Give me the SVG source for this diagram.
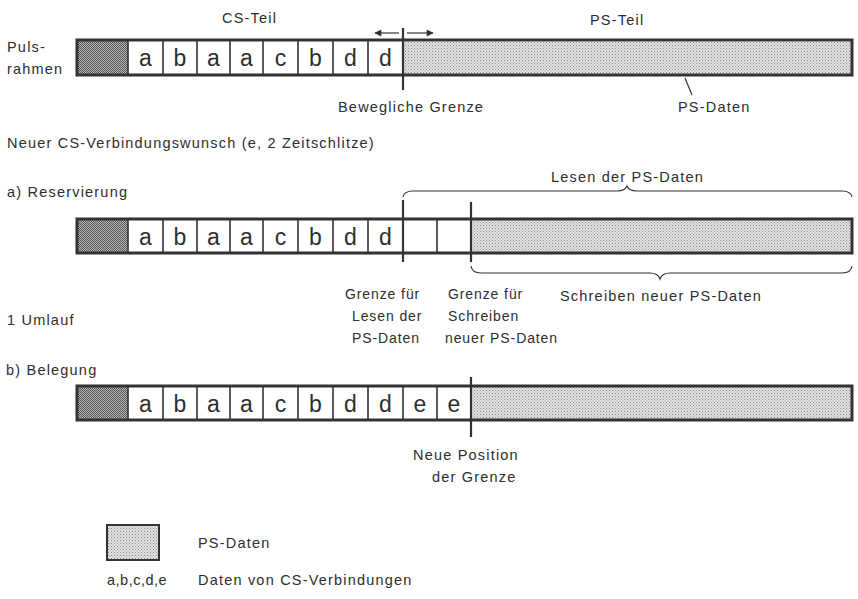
<svg xmlns="http://www.w3.org/2000/svg" width="858" height="599" viewBox="0 0 858 599">
<defs>
<pattern id="light" width="3" height="3" patternUnits="userSpaceOnUse">
<rect width="3" height="3" fill="#e2e2e2"/>
<rect x="0" y="0" width="1" height="1" fill="#8a8a8a"/>
<rect x="1.5" y="1.5" width="1" height="1" fill="#9a9a9a"/>
</pattern>
<pattern id="dark" width="2" height="2" patternUnits="userSpaceOnUse">
<rect width="2" height="2" fill="#b8b8b8"/>
<rect x="0" y="0" width="1" height="1" fill="#555"/>
<rect x="1" y="1" width="1" height="1" fill="#555"/>
</pattern>
<marker id="ah" viewBox="0 0 10 10" refX="9" refY="5" markerWidth="11" markerHeight="7" orient="auto" markerUnits="userSpaceOnUse">
<path d="M0,0 L10,5 L0,10 z" fill="#333"/>
</marker>
</defs>
<style>
text{font-family:"Liberation Sans","DejaVu Sans",sans-serif;fill:#2e2e2e;font-size:14.5px;letter-spacing:1.2px}
.n{font-size:14px;letter-spacing:0.9px}
.cell{font-size:23px;letter-spacing:0;text-anchor:middle}
.frame{fill:none;stroke:#333;stroke-width:3}
.div{stroke:#333;stroke-width:1.6}
.bnd{stroke:#333;stroke-width:2.2;fill:none}
.thin{stroke:#333;stroke-width:1.2;fill:none}
</style>
<rect width="858" height="599" fill="#fff"/>

<g id="labels">
<text x="222" y="23">CS-Teil</text>
<text x="590" y="25">PS-Teil</text>
<text x="7" y="52">Puls-</text>
<text x="7" y="74">rahmen</text>
<text x="338" y="112">Bewegliche Grenze</text>
<text x="678" y="112">PS-Daten</text>
<text x="7" y="148">Neuer CS-Verbindungswunsch  (e, 2 Zeitschlitze)</text>
<text x="7" y="197">a) Reservierung</text>
<text x="551" y="182">Lesen der PS-Daten</text>
<text x="560" y="301">Schreiben neuer PS-Daten</text>
<text class="n" x="345" y="299">Grenze für</text>
<text class="n" x="352" y="321">Lesen der</text>
<text class="n" x="352" y="343">PS-Daten</text>
<text class="n" x="448" y="299">Grenze für</text>
<text class="n" x="448" y="321">Schreiben</text>
<text class="n" x="445" y="343">neuer PS-Daten</text>
<text x="7" y="325">1 Umlauf</text>
<text x="6" y="375">b) Belegung</text>
<text x="413" y="460">Neue Position</text>
<text x="432" y="482">der Grenze</text>
</g>

<g id="frame-top">
<rect x="77" y="40" width="51" height="34" fill="url(#dark)"/>
<rect x="403" y="42" width="449" height="33" fill="url(#light)"/>
<rect x="77" y="40" width="775" height="35" class="frame"/>
<g class="div">
<line x1="128" y1="40" x2="128" y2="75"/><line x1="163" y1="40" x2="163" y2="75"/>
<line x1="197" y1="40" x2="197" y2="75"/><line x1="230" y1="40" x2="230" y2="75"/>
<line x1="263" y1="40" x2="263" y2="75"/><line x1="298" y1="40" x2="298" y2="75"/>
<line x1="333" y1="40" x2="333" y2="75"/><line x1="368" y1="40" x2="368" y2="75"/>
</g>
<text class="cell" x="145.5" y="66">a</text><text class="cell" x="180" y="66">b</text>
<text class="cell" x="213.5" y="66">a</text><text class="cell" x="246.5" y="66">a</text>
<text class="cell" x="280.5" y="66">c</text><text class="cell" x="315.5" y="66">b</text>
<text class="cell" x="350.5" y="66">d</text><text class="cell" x="385.5" y="66">d</text>
</g>

<g id="frame-a">
<rect x="77" y="219" width="51" height="34" fill="url(#dark)"/>
<rect x="471" y="219" width="381" height="34" fill="url(#light)"/>
<rect x="77" y="219" width="775" height="34" class="frame"/>
<g class="div">
<line x1="128" y1="219" x2="128" y2="253"/><line x1="163" y1="219" x2="163" y2="253"/>
<line x1="197" y1="219" x2="197" y2="253"/><line x1="230" y1="219" x2="230" y2="253"/>
<line x1="263" y1="219" x2="263" y2="253"/><line x1="298" y1="219" x2="298" y2="253"/>
<line x1="333" y1="219" x2="333" y2="253"/><line x1="368" y1="219" x2="368" y2="253"/>
<line x1="437" y1="219" x2="437" y2="253"/>
</g>
<text class="cell" x="145.5" y="245">a</text><text class="cell" x="180" y="245">b</text>
<text class="cell" x="213.5" y="245">a</text><text class="cell" x="246.5" y="245">a</text>
<text class="cell" x="280.5" y="245">c</text><text class="cell" x="315.5" y="245">b</text>
<text class="cell" x="350.5" y="245">d</text><text class="cell" x="385.5" y="245">d</text>
</g>

<g id="frame-b">
<rect x="77" y="386" width="51" height="34" fill="url(#dark)"/>
<rect x="471" y="386" width="381" height="34" fill="url(#light)"/>
<rect x="77" y="386" width="775" height="34" class="frame"/>
<g class="div">
<line x1="128" y1="386" x2="128" y2="420"/><line x1="163" y1="386" x2="163" y2="420"/>
<line x1="197" y1="386" x2="197" y2="420"/><line x1="230" y1="386" x2="230" y2="420"/>
<line x1="263" y1="386" x2="263" y2="420"/><line x1="298" y1="386" x2="298" y2="420"/>
<line x1="333" y1="386" x2="333" y2="420"/><line x1="368" y1="386" x2="368" y2="420"/>
<line x1="403" y1="386" x2="403" y2="420"/><line x1="437" y1="386" x2="437" y2="420"/>
</g>
<text class="cell" x="145.5" y="412">a</text><text class="cell" x="180" y="412">b</text>
<text class="cell" x="213.5" y="412">a</text><text class="cell" x="246.5" y="412">a</text>
<text class="cell" x="280.5" y="412">c</text><text class="cell" x="315.5" y="412">b</text>
<text class="cell" x="350.5" y="412">d</text><text class="cell" x="385.5" y="412">d</text>
<text class="cell" x="420" y="412">e</text><text class="cell" x="454" y="412">e</text>
</g>

<g id="connectors">
<line class="bnd" x1="403" y1="28" x2="403" y2="90"/>
<line class="thin" x1="399" y1="33" x2="375" y2="33" marker-end="url(#ah)"/>
<line class="thin" x1="407" y1="33" x2="433" y2="33" marker-end="url(#ah)"/>
<line class="thin" x1="685" y1="78" x2="692" y2="95"/>
<line class="bnd" x1="403" y1="200" x2="403" y2="262"/>
<line class="bnd" x1="471" y1="202" x2="471" y2="262"/>
<path class="thin" d="M403,197 Q404,191 413,191 L617,191 Q625,191 627,186 Q629,191 637,191 L842,191 Q851,191 852,197"/>
<path class="thin" d="M471,266 Q472,273 481,273 L650,273 Q658,273 660,279 Q662,273 670,273 L842,273 Q851,273 852,266"/>
<line class="bnd" x1="471" y1="377" x2="471" y2="437"/>
</g>

<g id="legend">
<rect x="107" y="525" width="52" height="35" fill="url(#light)" stroke="#333" stroke-width="2"/>
<text x="198" y="548">PS-Daten</text>
<text x="107" y="585" style="letter-spacing:0.5px">a,b,c,d,e</text>
<text x="198" y="585">Daten von CS-Verbindungen</text>
</g>
</svg>
